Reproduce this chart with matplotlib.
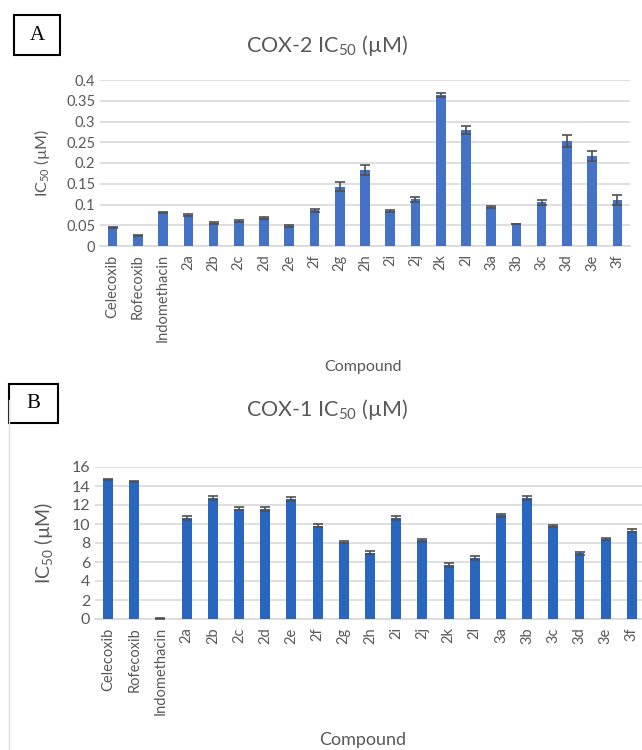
"""COX-2 / COX-1 IC50 bar charts (panels A and B), saved as out.png."""

import matplotlib.pyplot as plt
from matplotlib.patches import Rectangle
from matplotlib.lines import Line2D

COMPOUNDS = ["Celecoxib", "Rofecoxib", "Indomethacin", "2a", "2b", "2c", "2d",
             "2e", "2f", "2g", "2h", "2i", "2j", "2k", "2l", "3a", "3b", "3c",
             "3d", "3e", "3f"]

COX2_IC50 = [0.045, 0.025, 0.080, 0.075, 0.055, 0.060, 0.067, 0.048, 0.086,
             0.143, 0.183, 0.084, 0.113, 0.363, 0.280, 0.094, 0.053, 0.106,
             0.253, 0.216, 0.112]
COX2_ERR = [0.001, 0.001, 0.001, 0.002, 0.002, 0.002, 0.002, 0.002, 0.003,
            0.011, 0.012, 0.002, 0.006, 0.005, 0.010, 0.002, 0.001, 0.006,
            0.015, 0.012, 0.012]

COX1_IC50 = [14.7, 14.5, 0.1, 10.6, 12.7, 11.6, 11.6, 12.6, 9.8, 8.1, 7.0,
             10.6, 8.3, 5.7, 6.4, 10.9, 12.7, 9.8, 6.9, 8.4, 9.3]
COX1_ERR = [0.05, 0.05, 0.05, 0.2, 0.2, 0.15, 0.2, 0.2, 0.15, 0.15, 0.2,
            0.2, 0.15, 0.2, 0.2, 0.2, 0.2, 0.12, 0.15, 0.12, 0.15]

TEXT = "#595959"
GRID = "#D9D9D9"

W, H = 642, 750


def px_axes(fig, left, top, right, bottom):
    return fig.add_axes([left / W, 1 - bottom / H, (right - left) / W, (bottom - top) / H])


def style_axes(ax, ticksize):
    for s in ("top", "right", "left"):
        ax.spines[s].set_visible(False)
    ax.spines["bottom"].set_color(GRID)
    ax.spines["bottom"].set_linewidth(1.2)
    ax.yaxis.grid(True, color=GRID, linewidth=1.2, zorder=0)
    ax.set_axisbelow(True)
    ax.tick_params(axis="both", length=0, colors=TEXT, labelsize=ticksize)
    ax.tick_params(axis="x", labelsize=10.5, pad=6)


def main():
    plt.rcParams.update({
        "font.family": "Lato",
        "mathtext.fontset": "custom",
        "mathtext.rm": "Lato",
        "mathtext.it": "Lato:italic",
        "mathtext.bf": "Lato:bold",
    })
    fig = plt.figure(figsize=(W / 100, H / 100), dpi=100)
    x = range(len(COMPOUNDS))

    # Panel A
    axA = px_axes(fig, 100, 80, 630, 246)
    axA.bar(x, COX2_IC50, width=0.38, color="#4472C4", zorder=3,
            yerr=COX2_ERR, error_kw=dict(ecolor="#505050", elinewidth=1.2,
                                         capsize=3.5, capthick=1.2, zorder=4))
    axA.set_ylim(0, 0.4)
    axA.set_yticks([0, 0.05, 0.1, 0.15, 0.2, 0.25, 0.3, 0.35, 0.4])
    axA.set_yticklabels(["0", "0.05", "0.1", "0.15", "0.2", "0.25", "0.3", "0.35", "0.4"])
    axA.set_xlim(-0.5, len(COMPOUNDS) - 0.5)
    axA.set_xticks(list(x))
    axA.set_xticklabels(COMPOUNDS, rotation=90)
    style_axes(axA, 10.5)
    axA.set_ylabel("IC$_{50}$ (µM)", color=TEXT, fontsize=11.5)
    axA.yaxis.set_label_coords((52 - 100) / 530, 0.5)
    axA.set_xlabel("Compound", color=TEXT, fontsize=11.5, va="center")
    axA.xaxis.set_label_coords((363 - 100) / 530, (246 - 367) / 166)
    fig.text(327 / W, 1 - 45 / H, "COX-2 IC$_{50}$ (µM)", ha="center", va="center",
             fontsize=15.5, color=TEXT)

    # Panel B
    axB = px_axes(fig, 95, 467, 642, 619)
    axB.bar(x, COX1_IC50, width=0.38, color="#2866C0", zorder=3,
            yerr=COX1_ERR, error_kw=dict(ecolor="#505050", elinewidth=1.2,
                                         capsize=3.5, capthick=1.2, zorder=4))
    axB.set_ylim(0, 16)
    axB.set_yticks(range(0, 17, 2))
    axB.set_xlim(-0.5, len(COMPOUNDS) - 0.5 - 3 / 26.2)
    axB.set_xticks(list(x))
    axB.set_xticklabels(COMPOUNDS, rotation=90)
    style_axes(axB, 11.5)
    axB.set_ylabel("IC$_{50}$ (µM)", color=TEXT, fontsize=14)
    axB.yaxis.set_label_coords((55 - 95) / 547, 0.5)
    axB.set_xlabel("Compound", color=TEXT, fontsize=13, va="center")
    axB.xaxis.set_label_coords((363 - 95) / 547, (619 - 740) / 152)
    fig.text(327 / W, 1 - 410 / H, "COX-1 IC$_{50}$ (µM)", ha="center", va="center",
             fontsize=15.5, color=TEXT)

    # panel B chart frame (left edge visible)
    fig.add_artist(Line2D([8.5 / W, 8.5 / W], [0, 1 - 400 / H],
                          transform=fig.transFigure, color="#E0E0E0", linewidth=1))

    # letter boxes
    for (l, t, r, b, letter) in [(14, 15, 60, 55, "A"), (9, 384, 58, 423, "B")]:
        fig.add_artist(Rectangle((l / W, 1 - b / H), (r - l) / W, (b - t) / H,
                                 transform=fig.transFigure, facecolor="white",
                                 edgecolor="black", linewidth=1.5))
        fig.text((l + r) / 2 / W, 1 - (t + b) / 2 / H, letter, ha="center",
                 va="center", fontsize=15, family="Liberation Serif", color="black")

    fig.savefig("out.png", dpi=100)


if __name__ == "__main__":
    main()
